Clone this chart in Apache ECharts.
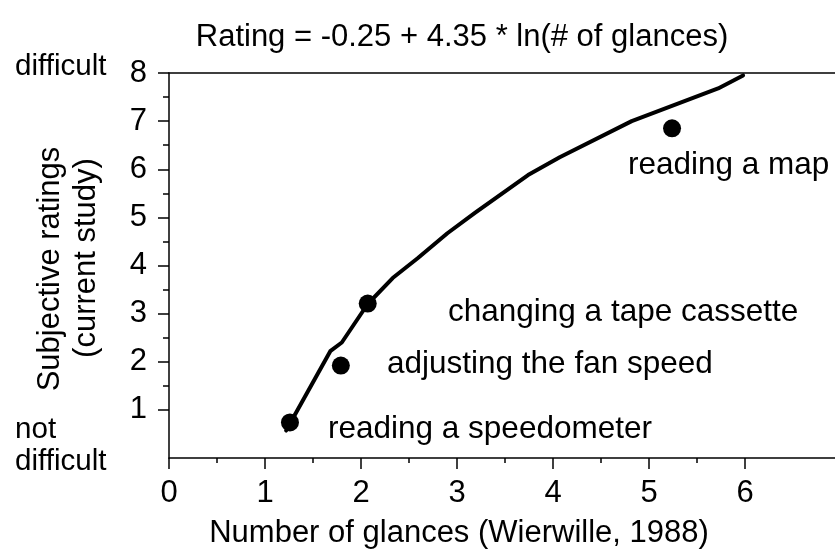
<!DOCTYPE html>
<html>
<head>
<meta charset="utf-8">
<script src="https://cdn.jsdelivr.net/npm/echarts@6/dist/echarts.min.js"></script>
<style>html,body{margin:0;padding:0;background:#fff}#c{width:835px;height:555px}</style>
</head>
<body>
<div id="c"></div>
<script>
// Regression curve as drawn
var curveGlances = [1.22, 1.68, 1.80, 2.07, 2.33, 2.59, 2.90, 3.19, 3.74, 4.07, 4.82, 5.72, 5.98];
var curveRatings = [0.57, 2.22, 2.40, 3.20, 3.74, 4.15, 4.67, 5.10, 5.88, 6.25, 7.00, 7.68, 7.95];
// Tasks
var taskNames = ['reading a speedometer', 'adjusting the fan speed', 'changing a tape cassette', 'reading a map'];
var taskGlances = [1.26, 1.79, 2.07, 5.24];
var taskRatings = [0.74, 1.92, 3.21, 6.85];
// Tick labels
var xTickValues = [0, 1, 2, 3, 4, 5, 6];
var xMinorValues = [0.5, 1.5, 2.5, 3.5, 4.5, 5.5];
var yTickValues = [1, 2, 3, 4, 5, 6, 7, 8];
var yMinorValues = [1.5, 2.5, 3.5, 4.5, 5.5, 6.5, 7.5];
var titleText = 'Rating = -0.25 + 4.35 * ln(# of glances)';
var xName = 'Number of glances (Wierwille, 1988)';
var yName1 = 'Subjective ratings';
var yName2 = '(current study)';

var FONT = '"Liberation Sans", Arial, Helvetica, sans-serif';
var FS = 31;
var chart = echarts.init(document.getElementById('c'));

function txt(text, x, baseline, align, size) {
  var fs = size || FS;
  return {
    type: 'text', x: x, y: baseline - 0.3465 * fs,
    style: { text: text, fontSize: fs, fontFamily: FONT, fill: '#000',
      textAlign: align || 'left', textVerticalAlign: 'middle' }
  };
}

var labelPos = [[328, 440], [387, 375], [448, 323], [628, 176]];
var graphics = [];
taskNames.forEach(function (n, i) {
  graphics.push(txt(n, labelPos[i][0], labelPos[i][1], 'left', 31.5));
});
graphics.push(txt('difficult', 15, 77, 'left', 29.6));
graphics.push(txt('not', 15, 440, 'left', 29.6));
graphics.push(txt('difficult', 15, 472, 'left', 29.6));
graphics.push(txt(xName, 459, 544, 'center', 31));
graphics.push(txt(titleText, 462, 48, 'center', 31));
graphics.push({
  type: 'text', x: 61 - 0.3465 * 31, y: 269, rotation: Math.PI / 2,
  style: { text: yName1, fontSize: 31, fontFamily: FONT, fill: '#000', textAlign: 'center', textVerticalAlign: 'middle' }
});
graphics.push({
  type: 'text', x: 97 - 0.3465 * 31, y: 258, rotation: Math.PI / 2,
  style: { text: yName2, fontSize: 31, fontFamily: FONT, fill: '#000', textAlign: 'center', textVerticalAlign: 'middle' }
});

var XMAX = 666 / 96;
var lineStyle = { color: '#000', width: 1.5 };
function xAx(extra) {
  return Object.assign({
    type: 'value', gridIndex: 0, min: 0, max: XMAX, position: 'bottom',
    axisLine: { show: false, onZero: false }, axisTick: { show: false },
    axisLabel: { show: false }, splitLine: { show: false }
  }, extra);
}
function yAx(extra) {
  return Object.assign({
    type: 'value', gridIndex: 0, min: 0, max: 8, position: 'left',
    axisLine: { show: false, onZero: false }, axisTick: { show: false },
    axisLabel: { show: false }, splitLine: { show: false }
  }, extra);
}

chart.setOption({
  animation: false,
  backgroundColor: '#fff',
  grid: { left: 169, right: 0, top: 73, bottom: 97, containLabel: false },
  xAxis: [
    xAx({ axisLine: { show: true, onZero: false, lineStyle: lineStyle },
      axisLabel: { show: true, customValues: xTickValues, fontSize: 31, fontFamily: FONT, color: '#000', margin: 20 } }),
    xAx({ axisTick: { show: true, customValues: xTickValues, length: 11, lineStyle: lineStyle } }),
    xAx({ axisTick: { show: true, customValues: xMinorValues, length: 5, lineStyle: lineStyle } }),
    xAx({ position: 'top', axisLine: { show: true, onZero: false, lineStyle: lineStyle } })
  ],
  yAxis: [
    yAx({ axisLine: { show: true, onZero: false, lineStyle: lineStyle },
      axisTick: { show: true, customValues: yTickValues, length: 11, lineStyle: lineStyle },
      axisLabel: { show: true, customValues: yTickValues, fontSize: 31, fontFamily: FONT, color: '#000', margin: 22 } }),
    yAx({ axisTick: { show: true, customValues: yMinorValues, length: 6, lineStyle: lineStyle } })
  ],
  series: [
    {
      type: 'line', xAxisIndex: 0, yAxisIndex: 0, symbol: 'none', silent: true,
      data: curveGlances.map(function (g, i) { return [g, curveRatings[i]]; }),
      lineStyle: { color: '#000', width: 4, cap: 'round', join: 'round' }
    },
    {
      type: 'scatter', xAxisIndex: 0, yAxisIndex: 0, symbol: 'circle', symbolSize: 18,
      itemStyle: { color: '#000', opacity: 1 },
      data: taskGlances.map(function (g, i) { return [g, taskRatings[i], taskNames[i]]; })
    }
  ],
  graphic: graphics
});
</script>
</body>
</html>
